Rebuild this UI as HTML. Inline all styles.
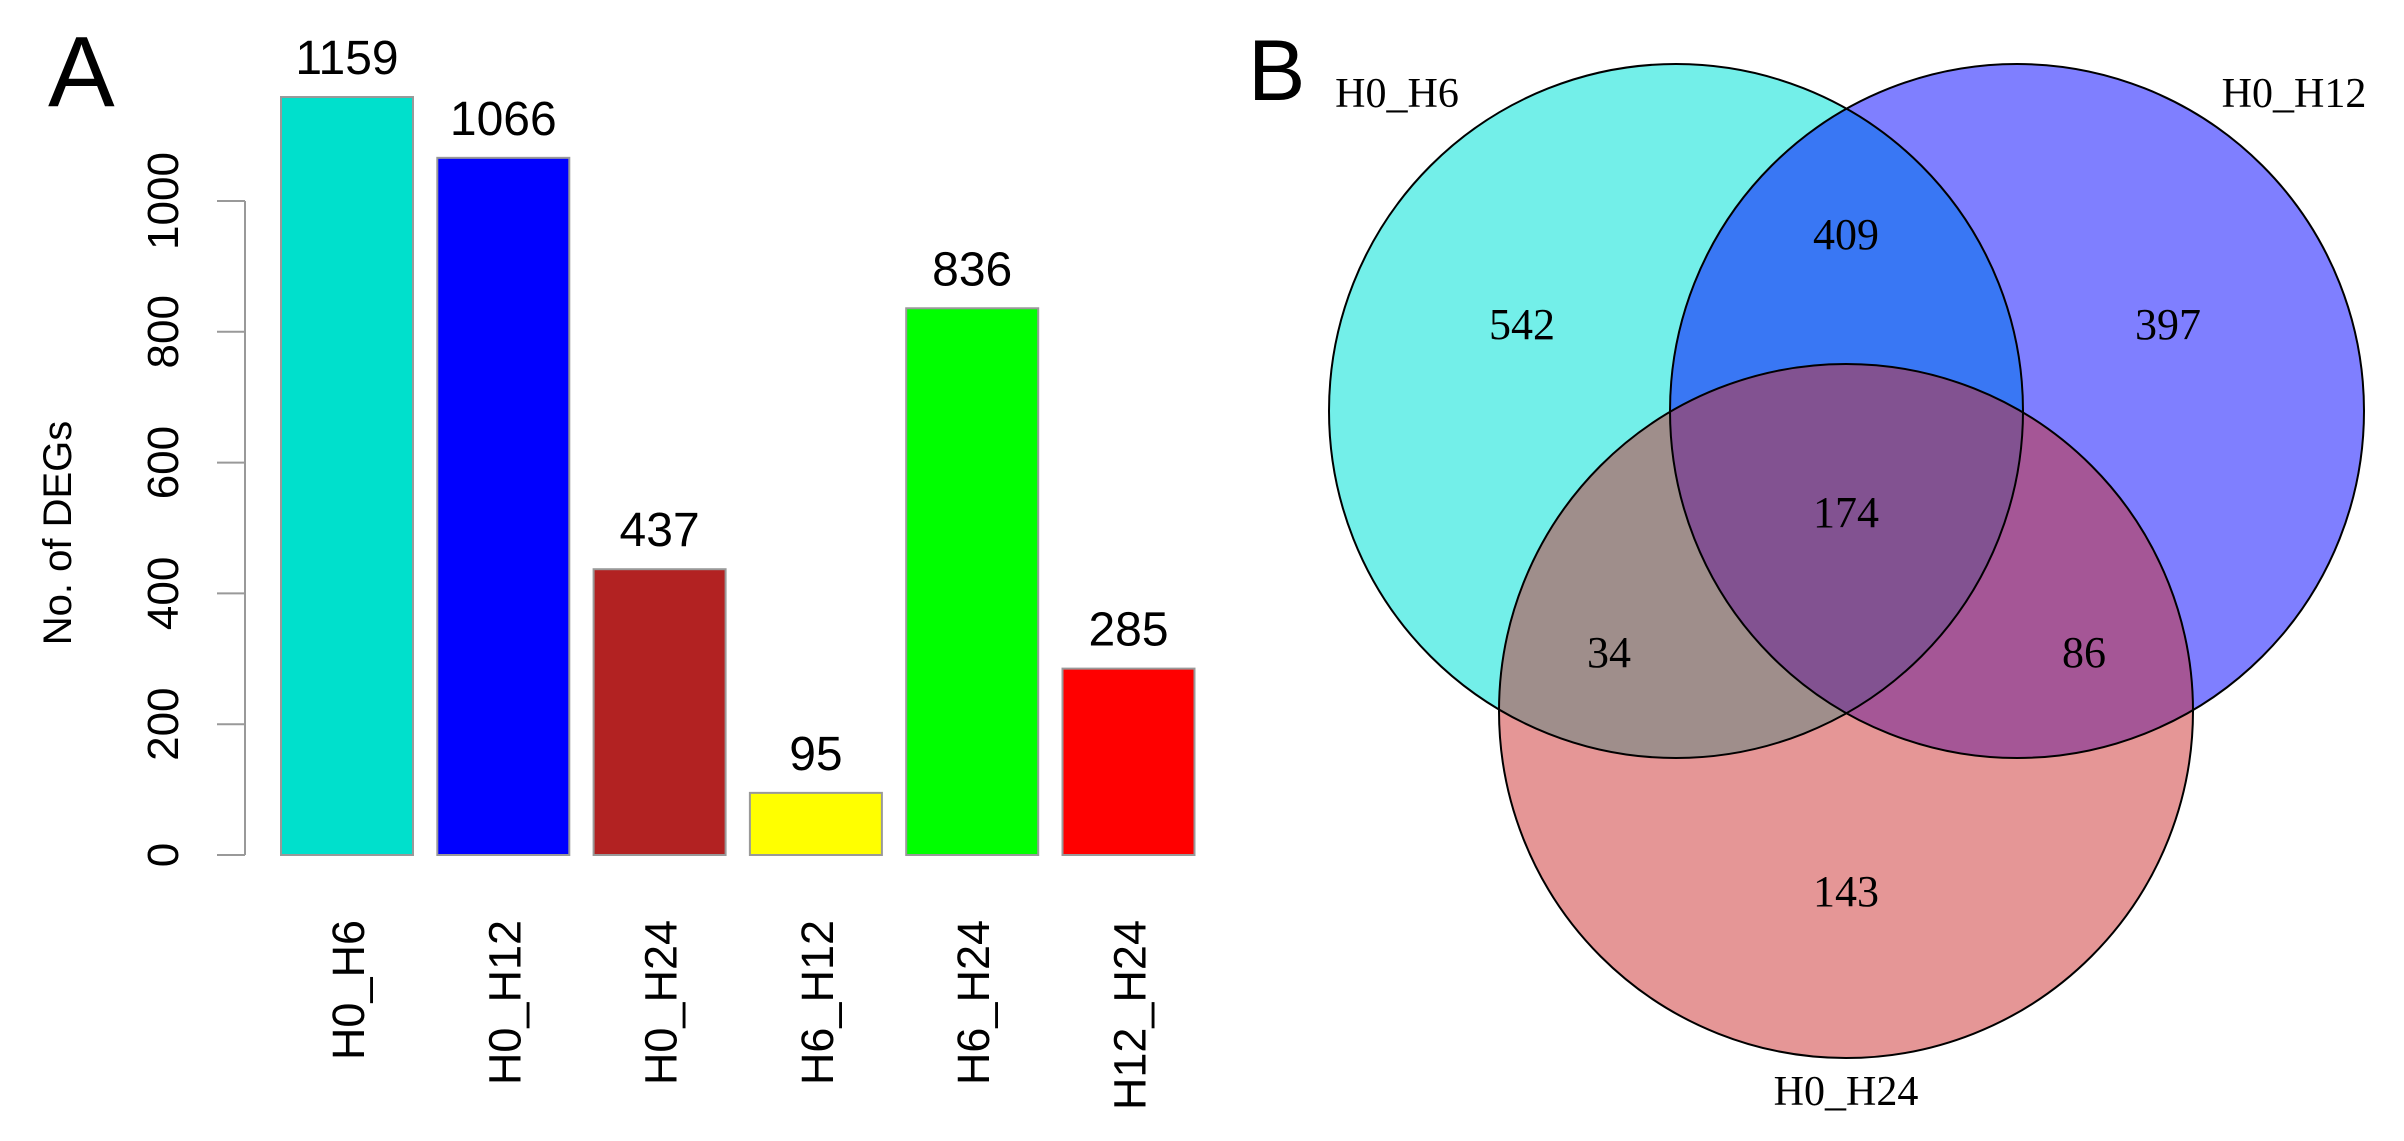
<!DOCTYPE html>
<html><head><meta charset="utf-8"><style>
html,body{margin:0;padding:0;background:#fff;width:2404px;height:1141px;overflow:hidden}
svg{display:block}
</style></head><body>
<svg id="fig" width="2404" height="1141" viewBox="0 0 2404 1141" xmlns="http://www.w3.org/2000/svg">
<g id="panelA"></g>
<g id="panelB"></g>
</svg>
<script>
const categories = ["H0_H6","H0_H12","H0_H24","H6_H12","H6_H24","H12_H24"];
const values = [1159,1066,437,95,836,285];
const barColors = ["#00E0CC","#0000FF","#B22222","#FFFF00","#00FF00","#FF0000"];
const yTicks = [0,200,400,600,800,1000];
const vennSets = ["H0_H6","H0_H12","H0_H24"];
const vennCounts = {a:542, ab:409, b:397, abc:174, ac:34, bc:86, c:143};

const NS="http://www.w3.org/2000/svg";
function mk(tag, attrs, parent, text){
  const e=document.createElementNS(NS,tag);
  for(const k in attrs) e.setAttribute(k, attrs[k]);
  if(text!==undefined) e.textContent=text;
  parent.appendChild(e); return e;
}
const A=document.getElementById('panelA');
const y0=855, pxPerUnit=0.654;
const yScale=v=>y0 - v*pxPerUnit;
const barStart=281, pitch=156.3, barW=132;
const xBand=i=>barStart + i*pitch;

let t=mk('text',{x:48,y:106,'font-family':'Liberation Sans, sans-serif','font-size':100},A,'A');



let ax=mk('line',{x1:245,x2:245,y1:yScale(0),y2:yScale(1000),stroke:'#999','stroke-width':2},A);


yTicks.forEach(v=>{
  const y=yScale(v);
  const l=mk('line',{x1:217,x2:245,y1:y,y2:y,stroke:'#999','stroke-width':2},A);
  
  
  const tx=mk('text',{x:0,y:0,transform:`translate(178,${y}) rotate(-90)`,'text-anchor':'middle','font-family':'Liberation Sans, sans-serif','font-size':44},A,String(v));
  
  
});
let yt=mk('text',{x:0,y:0,transform:'translate(71,533) rotate(-90)','text-anchor':'middle','font-family':'Liberation Sans, sans-serif','font-size':40},A,'No. of DEGs');



values.forEach((v,i)=>{
  const x=xBand(i), y=yScale(v);
  const r=mk('rect',{x:x,y:y,width:barW,height:y0-y,fill:barColors[i],stroke:'#999','stroke-width':2},A);
  
  
  const lbl=mk('text',{x:x+barW/2,y:y-23,'text-anchor':'middle','font-family':'Liberation Sans, sans-serif','font-size':48},A,String(v));
  
  
  const c=mk('text',{x:0,y:0,transform:`translate(${x+barW/2+17},920) rotate(-90)`,'text-anchor':'end','font-family':'Liberation Sans, sans-serif','font-size':45},A,categories[i]);
  
  
});

const B=document.getElementById('panelB');
let tb=mk('text',{x:1248,y:100,'font-family':'Liberation Sans, sans-serif','font-size':86},B,'B');


const circles=[
  {cx:1676,cy:411,fill:'rgb(0,225,215)'},
  {cx:2017,cy:411,fill:'rgb(0,0,255)'},
  {cx:1846,cy:711,fill:'rgb(203,45,45)'}
];
const R=347;
circles.forEach((c,i)=>{
  const e=mk('circle',{cx:c.cx,cy:c.cy,r:R,fill:c.fill,'fill-opacity':i==0?0.55:0.5},B);
  
  
});
circles.forEach(c=>{
  const e=mk('circle',{cx:c.cx,cy:c.cy,r:R,fill:'none',stroke:'#000','stroke-width':2},B);
  
  
});
const countPos={a:[1522,324],ab:[1846,234],b:[2168,324],abc:[1846,512],ac:[1609,652],bc:[2084,652],c:[1846,891]};
for(const k in vennCounts){
  const p=countPos[k];
  const e=mk('text',{x:p[0],y:p[1]+15,'text-anchor':'middle','font-family':'Liberation Serif, serif','font-size':44},B,String(vennCounts[k]));
  
  
}
const setLabelPos=[[1397,107],[2294,107],[1846,1105]];
vennSets.forEach((s,i)=>{
  const e=mk('text',{x:setLabelPos[i][0],y:setLabelPos[i][1],'text-anchor':'middle','font-family':'Liberation Serif, serif','font-size':42},B,s);
  
  
});
</script>
</body></html>
